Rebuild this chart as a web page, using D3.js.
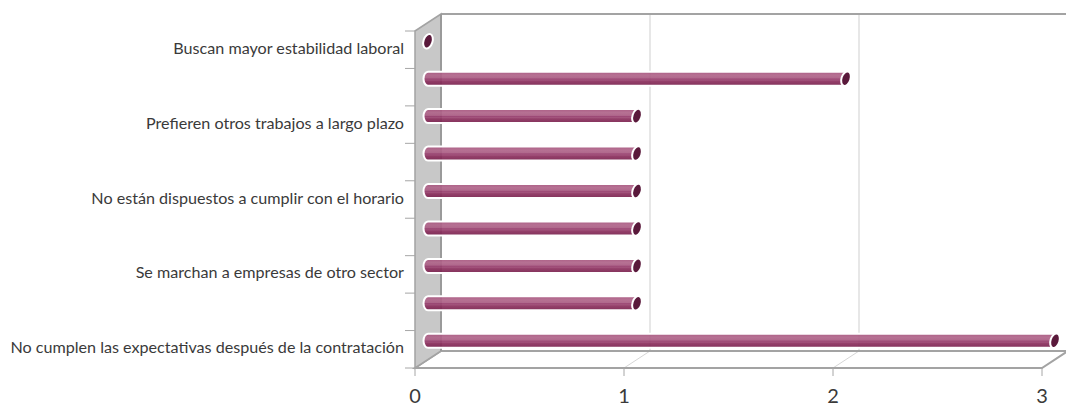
<!DOCTYPE html>
<html>
<head>
<meta charset="utf-8">
<script src="https://cdn.jsdelivr.net/npm/d3@7/dist/d3.min.js"></script>
<style>
  html, body { margin: 0; padding: 0; background: #fff; }
  svg { display: block; font-family: Lato, "Open Sans", sans-serif; }
</style>
</head>
<body>
<svg id="chart" width="1066" height="410"></svg>
<script>
// Categories from top to bottom; only every other one carries a printed label
const categories = ["c1", "c2", "c3", "c4", "c5", "c6", "c7", "c8", "c9"];
const categoryLabels = [
  "Buscan mayor estabilidad laboral",
  "",
  "Prefieren otros trabajos a largo plazo",
  "",
  "No están dispuestos a cumplir con el horario",
  "",
  "Se marchan a empresas de otro sector",
  "",
  "No cumplen las expectativas después de la contratación"
];
const values = [0, 2, 1, 1, 1, 1, 1, 1, 3];
const xTicks = [0, 1, 2, 3];

const rows = categories.map((c, i) => ({ cat: c, label: categoryLabels[i], value: values[i] }));

const svg = d3.select("#chart");

// 3D box geometry: front plane and the depth offset to the back wall
const front = { left: 415, top: 31, bottom: 368 };
const depth = { dx: 26, dy: -17 };

const x = d3.scaleLinear().domain([0, 3]).range([0, 627]);
const y = d3.scaleBand().domain(categories).range([front.top, front.bottom]);

const fx = v => front.left + x(v);               // front plane
const bx = v => front.left + depth.dx + x(v);    // back plane
const backTop = front.top + depth.dy;
const backBottom = front.bottom + depth.dy;

const wallStroke = "#a3a3a3";

// vertical gridlines on back wall and their continuation across the floor
const gridVals = xTicks.filter(v => v > 0 && v < 3);
svg.selectAll(".grid").data(gridVals).join("line")
  .attr("class", "grid")
  .attr("x1", d => bx(d)).attr("x2", d => bx(d))
  .attr("y1", backTop).attr("y2", backBottom)
  .attr("stroke", "#cfcfcf").attr("stroke-width", 1);
svg.selectAll(".floorgrid").data(gridVals).join("line")
  .attr("class", "floorgrid")
  .attr("x1", d => bx(d)).attr("y1", backBottom)
  .attr("x2", d => fx(d)).attr("y2", front.bottom)
  .attr("stroke", "#d6d6d6").attr("stroke-width", 1);

// top edge of back wall
svg.append("line")
  .attr("x1", bx(0)).attr("x2", 1066)
  .attr("y1", backTop).attr("y2", backTop)
  .attr("stroke", wallStroke).attr("stroke-width", 2);

// floor
svg.append("path")
  .attr("d", d3.line()([
    [fx(0), front.bottom], [fx(3), front.bottom],
    [bx(3), backBottom], [bx(0), backBottom]
  ]) + "Z")
  .attr("fill", "none")
  .attr("stroke", wallStroke).attr("stroke-width", 2);

// side wall
svg.append("path")
  .attr("d", d3.line()([
    [fx(0), front.top], [bx(0), backTop],
    [bx(0), backBottom], [fx(0), front.bottom]
  ]) + "Z")
  .attr("fill", "#c8c8c8")
  .attr("stroke", wallStroke).attr("stroke-width", 1.5);
svg.append("line")
  .attr("x1", bx(0)).attr("x2", bx(0))
  .attr("y1", backTop).attr("y2", backBottom)
  .attr("stroke", "#9a9a9a").attr("stroke-width", 2);

// category ticks along the front edge
const tickYs = categories.map(c => y(c)).concat([front.bottom]);
svg.selectAll(".ytick").data(tickYs).join("line")
  .attr("class", "ytick")
  .attr("x1", fx(0) - 10).attr("x2", fx(0))
  .attr("y1", d => d).attr("y2", d => d)
  .attr("stroke", "#a6a6a6").attr("stroke-width", 1);

// value ticks under the floor
svg.selectAll(".xtick").data(xTicks).join("line")
  .attr("class", "xtick")
  .attr("x1", d => fx(d)).attr("x2", d => fx(d))
  .attr("y1", front.bottom).attr("y2", front.bottom + 8)
  .attr("stroke", "#a6a6a6").attr("stroke-width", 1);

svg.selectAll(".xlabel").data(xTicks).join("text")
  .attr("class", "xlabel")
  .attr("x", d => fx(d)).attr("y", 398)
  .attr("text-anchor", "middle").attr("dominant-baseline", "middle")
  .attr("font-size", 20).attr("fill", "#3a3a3a")
  .text(d => d);

// cylinder shading
const defs = svg.append("defs");
const grad = defs.append("linearGradient")
  .attr("id", "cyl").attr("x1", 0).attr("x2", 0).attr("y1", 0).attr("y2", 1);
[
  [0, "#a5517b"], [0.25, "#b0658a"], [0.45, "#aa5c83"], [0.52, "#94396a"],
  [0.6, "#9b4571"], [0.7, "#8b2f5d"], [0.9, "#7e2552"], [1, "#6c1d45"]
].forEach(([o, c]) => grad.append("stop").attr("offset", o).attr("stop-color", c));

const barH = 14;
const mid = { dx: depth.dx / 2, dy: depth.dy / 2 };
const bars = svg.append("g").selectAll("g").data(rows).join("g")
  .attr("transform", d => `translate(0,${y(d.cat) + y.bandwidth() / 2 + mid.dy})`);

const capRx = 4.5;
const x0 = front.left + mid.dx;
bars.filter(d => d.value > 0).append("path")
  .attr("d", d => {
    const xe = x0 + x(d.value), h = barH / 2;
    return `M${xe},${-h} L${x0},${-h} A${capRx},${h} 0 0 0 ${x0},${h} L${xe},${h} Z`;
  })
  .attr("fill", "url(#cyl)")
  .attr("fill-opacity", 0.92)
  .attr("stroke", "#fff").attr("stroke-width", 2);

bars.append("ellipse")
  .attr("transform", d => `translate(${x0 + x(d.value)},0) rotate(18)`)
  .attr("rx", capRx).attr("ry", barH / 2 + 0.5)
  .attr("fill", "#5a193b")
  .attr("stroke", "#fff").attr("stroke-width", 2);

// category labels, sized so the longest fits the space left of the axis
const labels = svg.selectAll(".ylabel").data(rows).join("text")
  .attr("class", "ylabel")
  .attr("x", fx(0) - 11)
  .attr("y", d => y(d.cat) + y.bandwidth() / 2)
  .attr("text-anchor", "end").attr("dominant-baseline", "middle")
  .attr("font-size", 14).attr("fill", "#3a3a3a")
  .text(d => d.label);
let maxW = 0;
labels.each(function () { maxW = Math.max(maxW, this.getComputedTextLength()); });
if (maxW > 0) labels.attr("font-size", 14 * 394 / maxW);
</script>
</body>
</html>
